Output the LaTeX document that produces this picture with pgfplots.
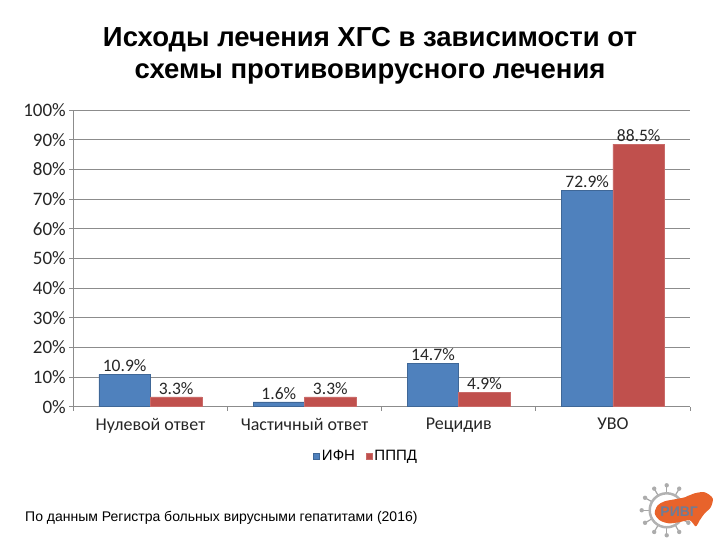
\documentclass[border=0pt]{standalone}
\usepackage{fontspec}
\setmainfont{Carlito}
\newfontfamily\arial{Liberation Sans}
\usepackage{pgfplots}
\pgfplotsset{compat=1.18}
\definecolor{ifn}{HTML}{4F81BD}
\definecolor{pppd}{HTML}{C0504D}
\definecolor{gridc}{HTML}{8C8C8C}
\definecolor{logoor}{HTML}{E8632B}
\definecolor{logotx}{HTML}{6E7C96}
\begin{document}
\begin{tikzpicture}[x=1bp,y=1bp]
\useasboundingbox (0,0) rectangle (720,540);
\begin{axis}[
  at={(73.3bp,133.3bp)}, anchor=south west,
  scale only axis, width=616.7bp, height=296.7bp,
  xmin=-0.5, xmax=3.5, ymin=0, ymax=100,
  axis lines=left, axis line style={-, gridc, line width=0.8bp},
  xtick={0,1,2,3},
  xticklabels={Нулевой ответ, Частичный ответ, Рецидив, УВО},
  major x tick style={draw=none},
  minor xtick={-0.5,0.5,1.5,2.5,3.5},
  minor x tick style={gridc, line width=0.8bp},
  minor tick length=4bp,
  ytick={0,10,...,100},
  yticklabels={0\%,10\%,20\%,30\%,40\%,50\%,60\%,70\%,80\%,90\%,100\%},
  y tick style={gridc, line width=0.8bp},
  major tick length=4bp,
  tick align=outside,
  ymajorgrids, major grid style={gridc, line width=0.9bp},
  xticklabel style={font=\fontsize{18bp}{20bp}\selectfont, text=black!85, yshift=-4bp},
  yticklabel style={font=\fontsize{19bp}{21bp}\selectfont, text=black!85},
  /pgf/number format/assume math mode=true,
  ybar, bar width=0.334,
  nodes near coords={\pgfmathprintnumber[fixed,fixed zerofill,precision=1]{\pgfplotspointmeta}\%},
  every node near coord/.append style={font=\fontsize{17.5bp}{20bp}\selectfont, text=black!85, inner sep=2bp},
  legend style={at={(0.475,-0.166)}, anchor=center, draw=none, fill=none,
    legend columns=2, font=\arial\fontsize{15bp}{17bp}\selectfont,
    /tikz/every even column/.append style={column sep=9bp}},
  legend image code/.code={\fill[#1] (0bp,-3bp) rectangle (6bp,3bp);},
  legend cell align=left,
  clip=false,
]
\addplot[fill=ifn, draw=ifn!80!black, line width=0.5bp, bar shift=-0.167]
  coordinates {(0,10.9) (1,1.6) (2,14.7) (3,72.9)};
\addlegendentry{ИФН}
\addplot[fill=pppd, draw=pppd!85!white, line width=0.5bp, bar shift=0.167]
  coordinates {(0,3.3) (1,3.3) (2,4.9) (3,88.5)};
\addlegendentry{ПППД}
\end{axis}
% title
\node[anchor=base, font=\arial\bfseries\fontsize{27.5bp}{30bp}\selectfont] at (370,493) {Исходы лечения ХГС в зависимости от};
\node[anchor=base, font=\arial\bfseries\fontsize{27.5bp}{30bp}\selectfont] at (370,461) {схемы противовирусного лечения};
% footnote
\node[anchor=base west, inner sep=0, font=\arial\fontsize{14bp}{16bp}\selectfont] at (25,18) {По данным Регистра больных вирусными гепатитами (2016)};
% logo (decoration)
\begin{scope}[shift={(666.7,29.7)}]
  \foreach \a in {0,30,...,330} {
    \draw[gray!70, line width=1.2bp] (\a:17) -- (\a:24);
    \fill[gray!65] (\a:25) circle (2.2bp);
  }
  \draw[gray!60, line width=2.5bp] (0,0) circle (17);
  \fill[logoor] plot[smooth cycle, tension=0.5] coordinates {
    (-12,-3) (-9,5) (-2,9) (8,11) (18,13) (28,17) (38,18) (46,12)
    (44,3) (38,-3) (33,-10) (29,-16) (23,-10) (12,-12) (2,-13) (-7,-10)};
  \node[font=\arial\bfseries\fontsize{14bp}{14bp}\selectfont, text=logotx, inner sep=0] at (12.5,-1) {РИВГ};
\end{scope}
\end{tikzpicture}
\end{document}
